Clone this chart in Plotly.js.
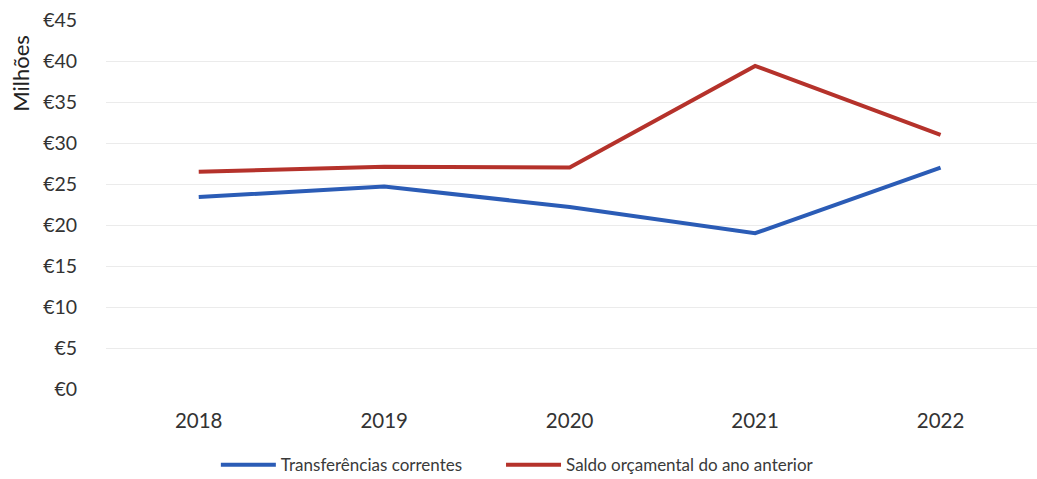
<!DOCTYPE html>
<html>
<head>
<meta charset="utf-8">
<script src="https://cdn.plot.ly/plotly-3.0.1.min.js"></script>
<style>
  html, body { margin: 0; padding: 0; background: #fff; }
  #chart { width: 1037px; height: 479px; }
</style>
</head>
<body>
<div id="chart"></div>
<script>
// Anos
const years = ['2018', '2019', '2020', '2021', '2022'];

// Valores em milhões de euros
const transferenciasCorrentes = [23.4, 24.7, 22.2, 19.0, 27.0];
const saldoOrcamental = [26.5, 27.1, 27.0, 39.4, 31.0];

const seriesNames = ['Transferências correntes', 'Saldo orçamental do ano anterior'];
const yTicks = [0, 5, 10, 15, 20, 25, 30, 35, 40, 45];
const yTickLabels = yTicks.map(v => '€' + v);

const fontFamily = 'Lato, "Open Sans", "Liberation Sans", sans-serif';

const traces = [
  {
    x: years,
    y: transferenciasCorrentes,
    name: seriesNames[0],
    type: 'scatter',
    mode: 'lines',
    legend: 'legend',
    line: { color: '#2b5cb6', width: 4 }
  },
  {
    x: years,
    y: saldoOrcamental,
    name: seriesNames[1],
    type: 'scatter',
    mode: 'lines',
    legend: 'legend2',
    line: { color: '#b5322b', width: 4 }
  }
];

// One legend box per series, placed side by side under the plot
const legendStyle = (xPos) => ({
  orientation: 'h',
  xref: 'paper',
  x: xPos,
  xanchor: 'left',
  y: -0.158,
  yanchor: 'top',
  font: { family: fontFamily, size: 17, color: '#3a3a3a' },
  itemwidth: 55,
  bgcolor: 'rgba(0,0,0,0)'
});

const layout = {
  width: 1037,
  height: 479,
  margin: { l: 106, r: 0, t: 20, b: 90, autoexpand: false },
  paper_bgcolor: '#ffffff',
  plot_bgcolor: '#ffffff',
  font: { family: fontFamily, color: '#333333', size: 17 },
  showlegend: true,
  legend: legendStyle(0.118),
  legend2: legendStyle(0.4243),
  xaxis: {
    type: 'category',
    range: [-0.5, 4.52],
    showgrid: false,
    zeroline: false,
    showline: false,
    automargin: false,
    ticks: 'outside',
    ticklen: 13,
    tickcolor: 'rgba(0,0,0,0)',
    tickfont: { family: fontFamily, size: 20.5, color: '#333333' }
  },
  yaxis: {
    range: [0, 45],
    tickmode: 'array',
    tickvals: yTicks,
    ticktext: yTickLabels,
    showgrid: true,
    gridcolor: '#ebebeb',
    gridwidth: 1,
    zeroline: false,
    showline: false,
    automargin: false,
    ticks: 'outside',
    ticklen: 24,
    tickcolor: 'rgba(0,0,0,0)',
    tickfont: { family: fontFamily, size: 19.5, color: '#333333' }
  },
  annotations: [
    {
      text: 'Milhões',
      xref: 'paper',
      yref: 'paper',
      x: -0.092,
      y: 0.855,
      xanchor: 'center',
      yanchor: 'middle',
      textangle: -90,
      showarrow: false,
      font: { family: fontFamily, size: 22, color: '#222222' }
    }
  ]
};

Plotly.newPlot('chart', traces, layout, { displayModeBar: false, staticPlot: true });
</script>
</body>
</html>
